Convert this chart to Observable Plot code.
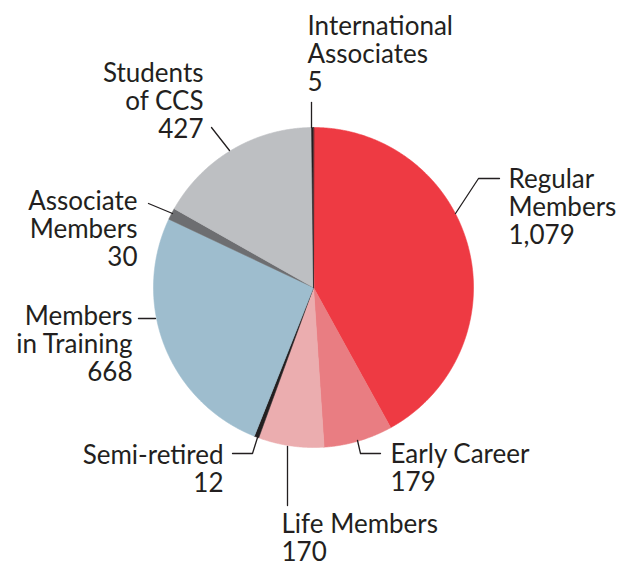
<!DOCTYPE html>
<html><head><meta charset="utf-8">
<script src="https://cdn.jsdelivr.net/npm/d3@7"></script>
<script src="https://cdn.jsdelivr.net/npm/@observablehq/plot@0.6"></script>
<style>body{margin:0;background:#fff} svg{display:block}</style>
</head><body><div id="chart"></div>
<script>
// ---- data ----
const categories = ["Regular\nMembers", "Early Career", "Life Members", "Semi-retired", "Members\nin Training", "Associate\nMembers", "Students\nof CCS", "International\nAssociates"];
const counts = [1079, 179, 170, 12, 668, 30, 427, 5];
const countLabels = ["1,079", "179", "170", "12", "668", "30", "427", "5"];
const sliceColors = ["#EE3A43", "#E97D82", "#EBADAF", "#231F20", "#9EBDCE", "#6D6E71", "#BDBFC2", "#231F20"];

// ---- layout (pixels) ----
const W = 618, H = 565, CX = 313, CY = 287, R = 160;
const labelAnchor = ["start", "start", "start", "end", "end", "end", "end", "start"];
const labelPos = [[508, 243], [390, 490], [281, 560], [223, 491], [132, 380], [137, 265], [203, 137], [307, 90]];
const leaderPts = [
  [[455, 213], [478, 178], [499, 178]],
  [[357, 440], [360, 453], [380, 453]],
  [[287, 446], [287, 505]],
  [[257, 437], [252, 453], [232, 453]],
  [[155, 318], [138, 318]],
  [[172, 213], [148, 203]],
  [[229, 150], [211, 127]],
  [[311, 127], [311, 102]]
];
const ux = px => (px - CX) / R, uy = py => (py - CY) / R;

// slices as polygons
const arcs = d3.pie().sort(null).value(d => d)(counts);
const slicePts = [];
arcs.forEach((a, i) => {
  slicePts.push({k: i, x: 0, y: 0, c: sliceColors[i]});
  const n = Math.max(2, Math.ceil((a.endAngle - a.startAngle) / 0.005));
  for (let j = 0; j <= n; j++) {
    const t = a.startAngle + (a.endAngle - a.startAngle) * j / n;
    slicePts.push({k: i, x: Math.sin(t), y: -Math.cos(t), c: sliceColors[i]});
  }
});

const leaders = [];
leaderPts.forEach((pts, i) => pts.forEach(p => leaders.push({k: i, x: ux(p[0]), y: uy(p[1])})));

const labels = categories.map((c, i) => ({
  text: c + "\n" + countLabels[i], x: ux(labelPos[i][0]), y: uy(labelPos[i][1]), a: labelAnchor[i]
}));

const textOpts = {x: "x", y: "y", text: "text", lineAnchor: "bottom", fontSize: 26, lineHeight: 1.07, fill: "#231F20", fontFamily: "Lato"};

const chart = Plot.plot({
  width: W, height: H, margin: 0,
  x: {domain: [ux(0), ux(W)], range: [0, W], axis: null},
  y: {domain: [uy(0), uy(H)], range: [0, H], axis: null},
  color: {type: "identity"},
  style: {fontFamily: "Lato", background: "#fff"},
  marks: [
    Plot.line(slicePts, {x: "x", y: "y", z: "k", fill: "c", stroke: "c", strokeWidth: 0.6, curve: "linear-closed"}),
    Plot.line(leaders, {x: "x", y: "y", z: "k", stroke: "#231F20", strokeWidth: 1.3}),
    Plot.text(labels.filter(d => d.a === "start"), {...textOpts, textAnchor: "start"}),
    Plot.text(labels.filter(d => d.a === "end"), {...textOpts, textAnchor: "end"})
  ]
});
document.getElementById("chart").append(chart);
</script>
</body></html>
